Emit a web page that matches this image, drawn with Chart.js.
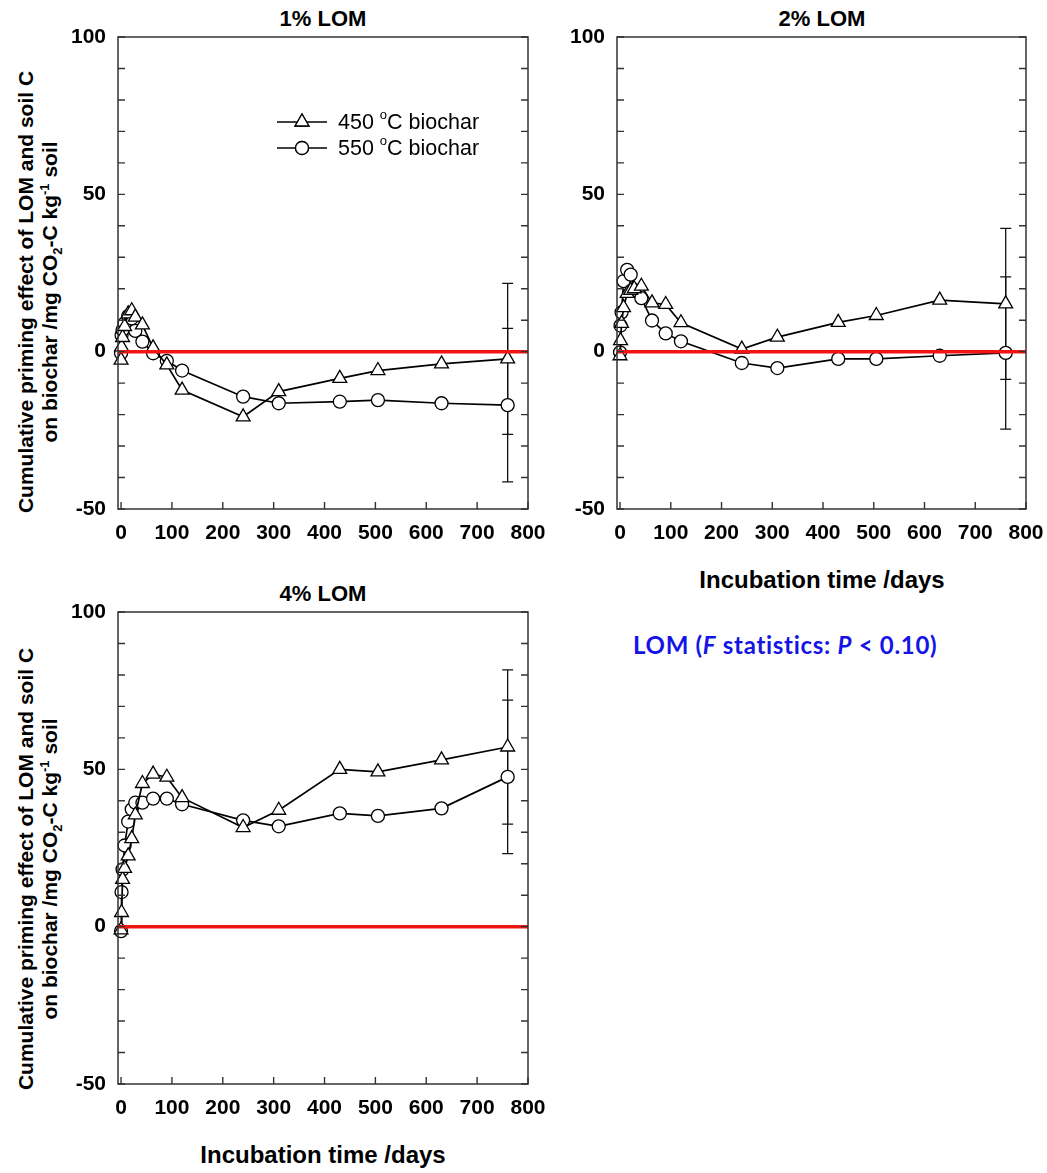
<!DOCTYPE html>
<html>
<head>
<meta charset="utf-8">
<script src="https://cdn.jsdelivr.net/npm/chart.js@4.4.1/dist/chart.umd.min.js"></script>
<style>
  body { margin: 0; background: #fff; width: 1047px; height: 1173px; position: relative; overflow: hidden;
         font-family: "Liberation Sans", Arial, sans-serif; color: #000; }
  .box { position: absolute; width: 550px; height: 545px; }
  .ptitle { position: absolute; width: 410px; text-align: center; font-weight: bold; font-size: 22px; line-height: 24px; }
  .xtitle { position: absolute; width: 410px; text-align: center; font-weight: bold; font-size: 24px; line-height: 26px; }
  .ytitle { position: absolute; width: 480px; height: 48px; text-align: center; font-weight: bold; font-size: 21px;
            line-height: 24px; transform: rotate(-90deg); white-space: nowrap; }
  .ytitle sub, .ytitle sup { font-size: 13px; line-height: 0; }
  .note { position: absolute; left: 633px; top: 630px; font-family: Lato, "Open Sans", sans-serif; font-weight: bold;
          font-size: 24px; letter-spacing: 0.7px; color: #1414e6; white-space: nowrap; }
</style>
</head>
<body>

<div class="ptitle" style="left:118px; top:7px;">1% LOM</div>
<div class="ptitle" style="left:617px; top:7px;">2% LOM</div>
<div class="ptitle" style="left:118px; top:582px;">4% LOM</div>

<div class="ytitle" style="left:-202px; top:268px;">Cumulative priming effect of LOM and soil C<br>on biochar /mg CO<sub>2</sub>-C kg<sup>-1</sup> soil</div>
<div class="ytitle" style="left:-202px; top:845px;">Cumulative priming effect of LOM and soil C<br>on biochar /mg CO<sub>2</sub>-C kg<sup>-1</sup> soil</div>

<div class="xtitle" style="left:617px; top:567px;">Incubation time /days</div>
<div class="xtitle" style="left:118px; top:1142px;">Incubation time /days</div>

<div class="note">LOM (<i>F</i> statistics: <i>P</i> &lt; 0.10)</div>

<div class="box" style="left:0px; top:0px;"><canvas id="c1" width="550" height="545"></canvas></div>
<div class="box" style="left:497px; top:0px;"><canvas id="c2" width="550" height="545"></canvas></div>
<div class="box" style="left:0px; top:575px;"><canvas id="c3" width="550" height="545"></canvas></div>

<script>
// incubation days
var days = [0, 1, 3, 7, 14, 21, 28, 42, 63, 90, 120, 240, 310, 430, 505, 630, 760];

// 1% LOM
var t450_1 = [-2.7, 1.5, 4.5, 8.0, 12.0, 13.0, 11.0, 8.5, 1.2, -4.2, -12.2, -20.7, -12.7, -8.5, -6.0, -3.9, -2.3];
var c550_1 = [-0.5, 5.3, 6.9, 9.0, 11.3, 10.6, 6.6, 3.2, -0.5, -2.9, -6.0, -14.3, -16.4, -15.9, -15.4, -16.4, -17.0];
var sem_1 = [24.0, 24.4];

// 2% LOM
var t450_2 = [-1.3, 3.5, 9.0, 14.0, 18.5, 19.5, 20.0, 20.8, 15.5, 15.0, 9.2, 0.8, 4.6, 9.3, 11.5, 16.4, 15.2];
var c550_2 = [-0.2, 8.3, 12.5, 22.4, 26.0, 24.5, 19.6, 17.0, 9.9, 5.8, 3.3, -3.6, -5.2, -2.3, -2.3, -1.3, -0.4];
var sem_2 = [24.0, 24.2];

// 4% LOM
var t450_4 = [-1.0, 4.5, 15.0, 18.5, 22.5, 28.0, 35.5, 45.5, 48.5, 47.5, 41.0, 31.5, 37.0, 50.0, 49.2, 53.0, 57.1];
var c550_4 = [-1.4, 11.0, 18.2, 25.8, 33.4, 37.3, 39.4, 39.4, 40.7, 40.7, 38.9, 33.8, 31.9, 36.0, 35.2, 37.6, 47.6];
var sem_4 = [24.5, 24.4];

var semDay = 760;
var xMin = -6, xMax = 800;
var yMin = -50, yMax = 100;
var xTicks = [0, 100, 200, 300, 400, 500, 600, 700, 800];
var yTicks = [-50, -40, -30, -20, -10, 0, 10, 20, 30, 40, 50, 60, 70, 80, 90, 100];
var yLabels = [-50, 0, 50, 100];
var seriesNames = ['450 °C biochar', '550 °C biochar'];

function pts(ys) {
  return days.map(function (d, i) { return { x: d, y: ys[i] }; });
}

// box, inward ticks, error bars and the in-plot legend
var framePlugin = {
  id: 'frame',
  beforeDatasetsDraw: function (chart) {
    var ctx = chart.ctx;
    var sem = chart.options.plugins.frame.sem;
    var xs = chart.scales.x, ys = chart.scales.y;
    ctx.save();
    ctx.strokeStyle = '#111';
    ctx.lineWidth = 1.3;
    [1, 2].forEach(function (di, k) {
      var data = chart.data.datasets[di].data;
      var p = data[data.length - 1];
      var px = xs.getPixelForValue(semDay);
      var top = ys.getPixelForValue(p.y + sem[k]);
      var bot = ys.getPixelForValue(p.y - sem[k]);
      ctx.beginPath();
      ctx.moveTo(px, top); ctx.lineTo(px, bot);
      ctx.moveTo(px - 5.5, top); ctx.lineTo(px + 5.5, top);
      ctx.moveTo(px - 5.5, bot); ctx.lineTo(px + 5.5, bot);
      ctx.stroke();
    });
    ctx.restore();
  },
  afterDraw: function (chart) {
    var ctx = chart.ctx, a = chart.chartArea;
    var xs = chart.scales.x, ys = chart.scales.y;
    ctx.save();
    ctx.strokeStyle = '#333';
    ctx.lineWidth = 1.4;
    ctx.beginPath();
    ys.ticks.forEach(function (t) {
      var py = ys.getPixelForValue(t.value);
      ctx.moveTo(a.left, py); ctx.lineTo(a.left + 7, py);
      ctx.moveTo(a.right, py); ctx.lineTo(a.right - 7, py);
    });
    xs.ticks.forEach(function (t) {
      var px = xs.getPixelForValue(t.value);
      ctx.moveTo(px, a.bottom); ctx.lineTo(px, a.bottom - 7);
    });
    ctx.stroke();
    ctx.lineWidth = 1.5;
    ctx.strokeRect(a.left, a.top, a.right - a.left, a.bottom - a.top);

    var lg = chart.options.plugins.frame.legend;
    if (lg) {
      var styles = ['triangle', 'circle'];
      var radii = [8, 6.5];
      for (var i = 0; i < 2; i++) {
        var cy = lg.y + i * 26;
        ctx.strokeStyle = '#000';
        ctx.lineWidth = 1.6;
        ctx.beginPath();
        ctx.moveTo(lg.x, cy); ctx.lineTo(lg.x + 50, cy);
        ctx.stroke();
        ctx.fillStyle = '#fff';
        ctx.lineWidth = 1.3;
        Chart.helpers.drawPoint(ctx, { pointStyle: styles[i], radius: radii[i], rotation: 0, borderWidth: 1.3 }, lg.x + 25, cy);
        ctx.fill();
        ctx.stroke();
        // label with superscript "o" before C
        var parts = seriesNames[i].split('°');
        var tx = lg.x + 61;
        ctx.fillStyle = '#000';
        ctx.textBaseline = 'middle';
        ctx.font = '21.5px "Liberation Sans", Arial, sans-serif';
        ctx.fillText(parts[0], tx, cy + 1);
        tx += ctx.measureText(parts[0]).width;
        ctx.font = '13px "Liberation Sans", Arial, sans-serif';
        ctx.fillText('o', tx, cy - 7);
        tx += ctx.measureText('o').width;
        ctx.font = '21.5px "Liberation Sans", Arial, sans-serif';
        ctx.fillText(parts[1], tx, cy + 1);
      }
    }
    ctx.restore();
  }
};

function makePanel(id, t450, c550, sem, yAxisWidth, padRight, legend) {
  var tickFont = { family: '"Liberation Sans", Arial, sans-serif', size: 21, weight: 'bold' };
  return new Chart(document.getElementById(id), {
    type: 'line',
    data: {
      datasets: [
        {
          data: [{ x: xMin, y: 0 }, { x: xMax, y: 0 }],
          borderColor: '#f01414', borderWidth: 3.5, pointRadius: 0
        },
        {
          label: seriesNames[0], data: pts(t450),
          borderColor: '#000', borderWidth: 1.7, tension: 0,
          pointStyle: 'triangle', pointRadius: 8, pointBorderWidth: 1.3,
          pointBackgroundColor: '#fff', pointBorderColor: '#000', clip: false
        },
        {
          label: seriesNames[1], data: pts(c550),
          borderColor: '#000', borderWidth: 1.7, tension: 0,
          pointStyle: 'circle', pointRadius: 6.5, pointBorderWidth: 1.3,
          pointBackgroundColor: '#fff', pointBorderColor: '#000', clip: false
        }
      ]
    },
    options: {
      responsive: false,
      animation: false,
      layout: { padding: { top: 37, right: padRight, bottom: 2, left: 0 } },
      plugins: {
        legend: { display: false },
        tooltip: { enabled: false },
        frame: { sem: sem, legend: legend }
      },
      scales: {
        x: {
          type: 'linear', min: xMin, max: xMax,
          grid: { display: false, drawTicks: false }, border: { display: false },
          ticks: { padding: 12, color: '#000', font: tickFont, maxRotation: 0, autoSkip: false },
          afterBuildTicks: function (s) { s.ticks = xTicks.map(function (v) { return { value: v }; }); },
          afterFit: function (s) { s.height = 34; s.paddingLeft = 0; s.paddingRight = 0; }
        },
        y: {
          type: 'linear', min: yMin, max: yMax,
          grid: { display: false, drawTicks: false }, border: { display: false },
          ticks: {
            padding: 12, color: '#000', font: tickFont, autoSkip: false,
            callback: function (v) { return yLabels.indexOf(v) >= 0 ? v : ''; }
          },
          afterBuildTicks: function (s) { s.ticks = yTicks.map(function (v) { return { value: v }; }); },
          afterFit: function (s) { s.width = yAxisWidth; s.paddingTop = 0; s.paddingBottom = 0; }
        }
      }
    },
    plugins: [framePlugin]
  });
}

makePanel('c1', t450_1, c550_1, sem_1, 118, 22, { x: 277, y: 122 });
makePanel('c2', t450_2, c550_2, sem_2, 120, 21, null);
makePanel('c3', t450_4, c550_4, sem_4, 118, 22, null);
</script>
</body>
</html>
